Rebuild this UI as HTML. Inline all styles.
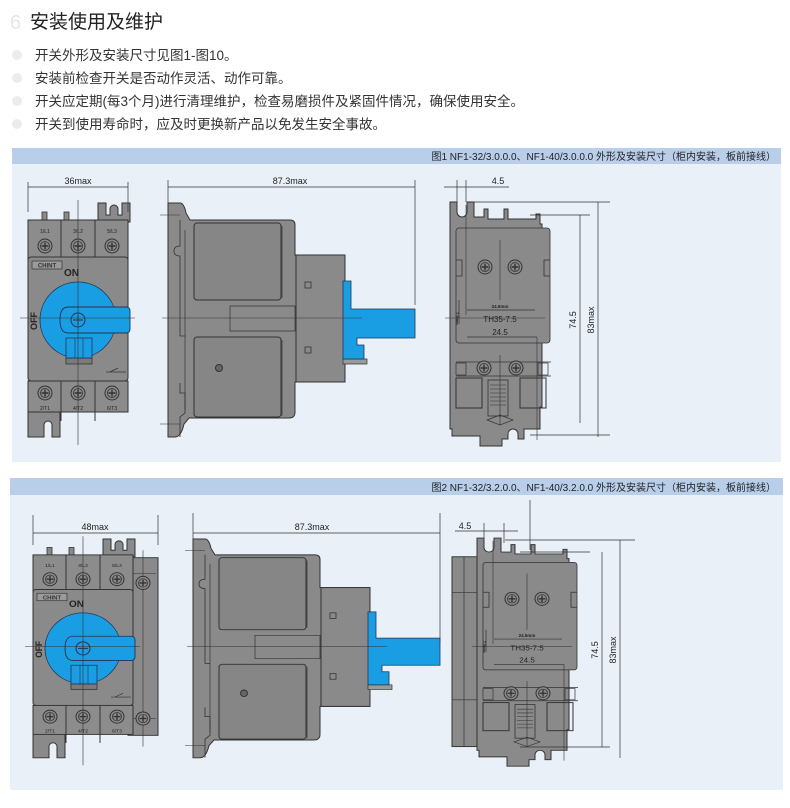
<!DOCTYPE html>
<html><head><meta charset="utf-8"><style>
html,body{margin:0;padding:0;background:#fff;width:790px;height:808px;overflow:hidden}
svg{display:block}
text{font-family:"Liberation Sans","Noto Sans CJK SC",sans-serif}
</style></head><body>
<svg width="790" height="808" viewBox="0 0 790 808" xmlns="http://www.w3.org/2000/svg">
<defs>
<g id="scr"><circle r="7" fill="#8a8a8a" stroke="#333" stroke-width="1"/><circle r="4.5" fill="none" stroke="#333" stroke-width="0.8"/><path d="M-3.5 0H3.5M0 -3.5V3.5" stroke="#333" stroke-width="1.4"/></g>
<g id="front">
 <path d="M98 203h8v12h4v-6a4 4 0 0 1 8 0v6h4v-12h8v19h-32z" fill="#8a8a8a" stroke="#333"/>
 <rect x="42" y="212" width="5" height="10" fill="#8a8a8a" stroke="#333" stroke-width=".8"/>
 <rect x="64" y="212" width="5" height="10" fill="#8a8a8a" stroke="#333" stroke-width=".8"/>
 <rect x="28" y="220" width="100" height="40" fill="#8c8c8c" stroke="#333"/>
 <path d="M61 220v38M95 220v38" stroke="#333"/>
 <text x="45" y="233" font-size="5" text-anchor="middle" fill="#222">1/L1</text>
 <text x="78" y="233" font-size="5" text-anchor="middle" fill="#222">3/L2</text>
 <text x="112" y="233" font-size="5" text-anchor="middle" fill="#222">5/L3</text>
 <use href="#scr" x="45" y="246"/><use href="#scr" x="78" y="246"/><use href="#scr" x="112" y="246"/>
 <rect x="28" y="257" width="100" height="124" rx="3" fill="#8a8a8a" stroke="#333"/>
 <rect x="32" y="261" width="30" height="8" fill="#9a9a9a" stroke="#333" stroke-width=".7"/>
 <text x="47" y="267.5" font-size="6" text-anchor="middle" fill="#333" font-weight="bold">CHINT</text>
 <text x="64" y="276" font-size="10" font-weight="bold" fill="#222">ON</text>
 <text x="37" y="330" font-size="9" font-weight="bold" fill="#222" transform="rotate(-90 37 330)">OFF</text>
 <path d="M66 358h26v6h-26z" fill="#7a7a7a" stroke="#333" stroke-width=".8"/>
 <circle cx="78" cy="320" r="38" fill="#1a9ee3" stroke="#235" stroke-width=".8"/>
 <rect x="66" y="338" width="26" height="20" fill="#1a9ee3" stroke="#235" stroke-width=".8"/>
 <path d="M75 338v20M83 338v20" stroke="#235" stroke-width=".6"/>
 <path d="M68 307h58q4 0 4 4v18q0 4-4 4h-58q-8 0-8-13t8-13z" fill="#1a9ee3" stroke="#235" stroke-width=".9"/>
 <circle cx="78" cy="320" r="7" fill="#1a9ee3" stroke="#235"/><path d="M73 320h10M78 315v10" stroke="#235"/>
 <path d="M110 372l8 -4M106 372h20" stroke="#333" stroke-width=".7"/>
 <rect x="28" y="381" width="100" height="31" fill="#8c8c8c" stroke="#333"/>
 <path d="M61 381v40M95 381v40" stroke="#333"/>
 <use href="#scr" x="45" y="393"/><use href="#scr" x="78" y="393"/><use href="#scr" x="112" y="393"/>
 <text x="45" y="410" font-size="5" text-anchor="middle" fill="#222">2/T1</text>
 <text x="78" y="410" font-size="5" text-anchor="middle" fill="#222">4/T2</text>
 <text x="112" y="410" font-size="5" text-anchor="middle" fill="#222">6/T3</text>
 <path d="M28 412h32v25h-8v-12a4 4 0 0 0 -8 0v12h-4v0h-12z" fill="#8a8a8a" stroke="#333"/>
 <path d="M78 200v245M20 318h115" stroke="#333" stroke-width=".6"/>
</g>
<g id="side">
 <path d="M168 203h12q4 0 6 10l4 7h100q5 0 5 5v30h50v127h-50v30q0 6-6 6h-100l-5 6q-3 13-9 13h-7z" fill="#8a8a8a" stroke="#333"/>
 <path d="M180 220v26q-6 0-6 5t6 5v80h5M180 383v10h5v20l-5 4v20" fill="none" stroke="#333" stroke-width=".8"/>
 <path d="M185 230v180" stroke="#333" stroke-width=".7"/>
 <rect x="194" y="223" width="87" height="77" rx="3" fill="#868686" stroke="#333"/>
 <rect x="194" y="337" width="87" height="80" rx="3" fill="#868686" stroke="#333"/>
 <path d="M282 226v72M282 340v76" stroke="#333" stroke-width=".7"/>
 <path d="M230 306h65v25h-65z" fill="none" stroke="#333" stroke-width=".7"/>
 <rect x="296" y="255" width="49" height="127" fill="#8a8a8a" stroke="#333"/>
 <rect x="305" y="282" width="6" height="6" fill="none" stroke="#333" stroke-width=".8"/>
 <rect x="305" y="347" width="6" height="6" fill="none" stroke="#333" stroke-width=".8"/>
 <circle cx="219" cy="368" r="3.5" fill="#666" stroke="#333"/>
 <path d="M343 359h24v5h-24z" fill="#9a9a9a" stroke="#333" stroke-width=".7"/>
 <path d="M343 281h8v28h64v29h-58v7h7v14h-21z" fill="#1a9ee3" stroke="#235" stroke-width=".8"/>
 <path d="M162 318h200" stroke="#333" stroke-width=".6"/>
 <path d="M160 215h20M160 424h20" stroke="#333" stroke-width=".6"/>
</g>
<g id="back">
 <path d="M450 202h7v10a5 5 0 0 0 10 0v-10h7v15h10v-8h4v10h16v-10h4v10h28v-5h4v10h2v183h-2v22h-16v10h-6v-5a5 5 0 0 0 -10 0v5h-6v7h-22v-10h-28v-7h-2z" fill="#8a8a8a" stroke="#333"/>
 <rect x="456" y="228" width="94" height="115" rx="3" fill="#8a8a8a" stroke="#333" stroke-width=".8"/>
 <path d="M456 260h6v16h-6M550 260h-6v16h6" fill="none" stroke="#333" stroke-width=".8"/>
 <use href="#scr" x="485" y="267"/><use href="#scr" x="515" y="267"/>
 <path d="M456 362h95M456 376h95" stroke="#333" stroke-width=".8"/>
 <rect x="456" y="363" width="10" height="12" fill="none" stroke="#333" stroke-width=".7"/>
 <rect x="538" y="363" width="10" height="12" fill="none" stroke="#333" stroke-width=".7"/>
 <use href="#scr" x="484" y="368"/><use href="#scr" x="516" y="368"/>
 <rect x="456" y="378" width="26" height="30" fill="none" stroke="#333"/>
 <rect x="520" y="378" width="26" height="30" fill="none" stroke="#333"/>
 <rect x="488" y="380" width="20" height="36" fill="#8a8a8a" stroke="#333" stroke-width=".8"/>
 <path d="M490 385h16M490 389h16M490 393h16M490 397h16M490 401h16M490 405h16" stroke="#333" stroke-width=".6"/>
 <path d="M487 420l13 -5l13 5l-13 5z" fill="none" stroke="#333" stroke-width=".7"/>
 <path d="M466 205v110M500 240v60M500 355v70M537 337v103M445 318h100" stroke="#333" stroke-width=".6"/>
 <path d="M467 310h68M459 300v24M467 337h70" stroke="#333" stroke-width=".7"/>
 <text x="500" y="308" font-size="4.5" text-anchor="middle" fill="#222" font-weight="bold">24.5mm</text>
 <text x="500" y="322" font-size="8" text-anchor="middle" fill="#222">TH35-7.5</text>
 <text x="500" y="335" font-size="8" text-anchor="middle" fill="#222">24.5</text>
 <text x="456" y="312" font-size="4" fill="#222" font-weight="bold" transform="rotate(90 456 312)">7.5mm</text>
</g>
</defs>

<text x="10" y="29" font-size="20" fill="#e6e6e6">6</text>
<text x="30" y="28" font-size="19" fill="#222">安装使用及维护</text>
<g font-size="13.5" fill="#333">
<text x="35" y="60">开关外形及安装尺寸见图1-图10。</text>
<text x="35" y="83">安装前检查开关是否动作灵活、动作可靠。</text>
<text x="35" y="106">开关应定期(每3个月)进行清理维护，检查易磨损件及紧固件情况，确保使用安全。</text>
<text x="35" y="129">开关到使用寿命时，应及时更换新产品以免发生安全事故。</text>
</g>
<g fill="#ececec"><circle cx="17" cy="55" r="5"/><circle cx="17" cy="78" r="5"/><circle cx="17" cy="101" r="5"/><circle cx="17" cy="124" r="5"/></g>

<rect x="12" y="148" width="769" height="314" fill="#eaf0f8"/>
<rect x="12" y="148" width="769" height="16" fill="#b9cee9"/>
<text x="776" y="160" font-size="10" text-anchor="end" fill="#222">图1 NF1-32/3.0.0.0、NF1-40/3.0.0.0  外形及安装尺寸（柜内安装，板前接线）</text>
<use href="#front"/>
<use href="#side"/>
<use href="#back"/>
<g stroke="#333" stroke-width=".7" fill="none">
<path d="M28 182v30M128 182v30M28 187h100M168 180v30M415 180v125M168 187h247"/>
<path d="M444 187h65M457 180v22M466 180v22M470 202h140M530 215h60M530 435h80M580 215v208M598 202v235"/>
</g>
<g font-size="9" fill="#222" text-anchor="middle">
<text x="78" y="184">36max</text><text x="290" y="184">87.3max</text><text x="498" y="184">4.5</text>
<text x="576" y="320" transform="rotate(-90 576 320)">74.5</text>
<text x="594" y="320" transform="rotate(-90 594 320)">83max</text>
</g>

<rect x="10" y="478" width="773" height="312" fill="#eaf0f8"/>
<rect x="10" y="478" width="773" height="17" fill="#b9cee9"/>
<text x="776" y="491" font-size="10" text-anchor="end" fill="#222">图2 NF1-32/3.2.0.0、NF1-40/3.2.0.0 外形及安装尺寸（柜内安装，板前接线）</text>
<g transform="translate(0,539) scale(1,0.935) translate(0,-203)">
<g transform="translate(5,0)">
<rect x="123" y="223" width="30" height="190" fill="#8a8a8a" stroke="#333"/>
<path d="M138 215v210M125 240h26M125 395h26" stroke="#333" stroke-width=".6"/>
<use href="#scr" x="138" y="250"/><use href="#scr" x="138" y="395"/>
<use href="#front"/>
</g>
<use href="#side" transform="translate(25,0)"/>
<g transform="translate(27,0)">
<rect x="425" y="222" width="31" height="203" fill="#8a8a8a" stroke="#333"/>
<path d="M437 222v203M425 260h31M425 375h31" stroke="#333" stroke-width=".7"/>
<use href="#back"/>
</g>
</g>
<g stroke="#333" stroke-width=".7" fill="none">
<path d="M33 515v30M158 515v30M33 533h125M193 513v30M440 513v130M193 533h247"/>
<path d="M455 531h63M484 523v20M504 523v20M505 540h130M520 552h70M520 747h90M602 552v195M620 540v218M530 500v50"/>
</g>
<g font-size="9" fill="#222" text-anchor="middle">
<text x="95" y="530">48max</text><text x="312" y="530">87.3max</text><text x="465" y="529">4.5</text>
<text x="598" y="650" transform="rotate(-90 598 650)">74.5</text>
<text x="616" y="650" transform="rotate(-90 616 650)">83max</text>
</g>
</svg>
</body></html>
